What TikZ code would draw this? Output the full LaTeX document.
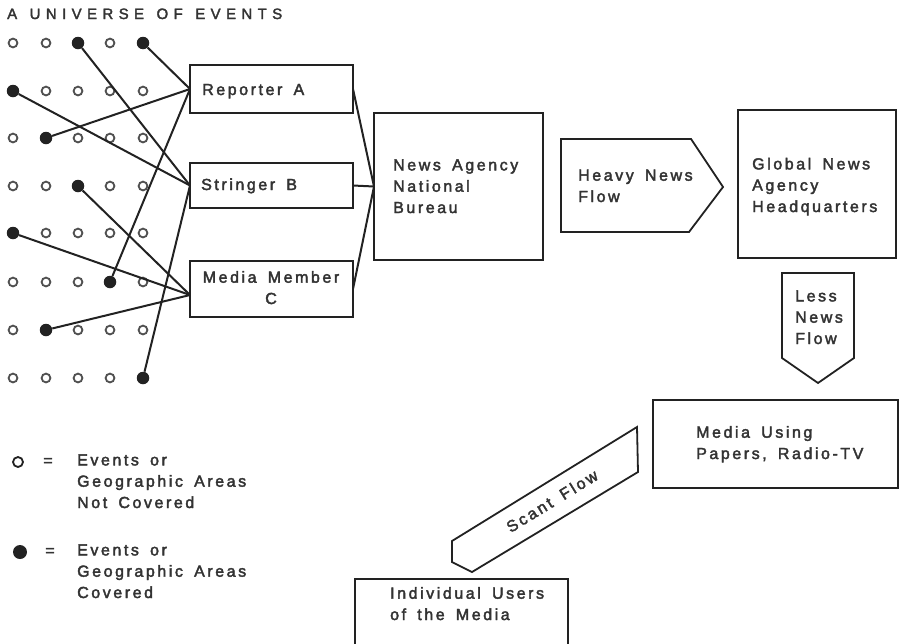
\documentclass[tikz,border=0pt]{standalone}
\usepackage{fontspec}
\newfontfamily\bodyfam[LetterSpace=16,WordSpace=1.6,FakeBold=2.5]{Liberation Sans}
\newfontfamily\titlefam[LetterSpace=36,WordSpace=1.3,FakeBold=2.2]{Liberation Sans}
\newcommand\mybody{\bodyfam\fontsize{16}{21.3}\selectfont}
\newcommand\mytitle{\titlefam\fontsize{15}{18}\selectfont}
\definecolor{ink}{HTML}{222222}
\definecolor{txt}{HTML}{333333}
\definecolor{ring}{HTML}{505050}
\begin{document}
\begin{tikzpicture}[x=1pt,y=-1pt,
  box/.style={draw=ink, line width=1.8pt, rectangle, inner sep=0pt, outer sep=0pt, anchor=north west},
  lbl/.style={font=\mybody, text=txt, align=left, inner sep=0pt, anchor=base west},
  odot/.style={circle, draw=ring, line width=1.8pt, minimum size=8.8pt, inner sep=0pt},
  fdot/.style={circle, fill=ink, minimum size=12.5pt, inner sep=0pt},
  conn/.style={draw=ink, line width=2pt},
  flow/.style={draw=ink, line width=1.8pt, line join=miter}]
\useasboundingbox (0,0) rectangle (904,643);
\clip (0,0) rectangle (904,643);

% title
\node[font=\mytitle, text=txt, anchor=base west, inner sep=0pt] (title) at (7,19) {A UNIVERSE OF EVENTS};

% grid of events
\foreach \y/\fa/\fb [count=\r] in {43/3/5, 91/1/0, 138/2/0, 186/3/0, 233/1/0, 282/4/0, 330/2/0, 378/5/0} {
  \foreach \x [count=\c] in {13,46,78,110,143} {
    \ifnum\c=\fa
      \node[fdot] (d\r\c) at (\x,\y) {};
    \else
      \ifnum\c=\fb
        \node[fdot] (d\r\c) at (\x,\y) {};
      \else
        \node[odot] (d\r\c) at (\x,\y) {};
      \fi
    \fi
  }
}

% boxes
\node[box, minimum width=163pt, minimum height=48pt] (RA) at (190,65) {};
\node[box, minimum width=163pt, minimum height=45pt] (SB) at (190,163) {};
\node[box, minimum width=163pt, minimum height=56pt] (MC) at (190,261) {};
\node[box, minimum width=169pt, minimum height=147pt] (NA) at (374,113) {};
\node[box, minimum width=158pt, minimum height=148pt] (GN) at (738,110) {};
\node[box, minimum width=245pt, minimum height=88pt] (MU) at (653,400) {};
\node[box, minimum width=213pt, minimum height=90pt] (IU) at (355,579) {};

% connectors from events
\draw[conn] (d13) -- (SB.west);
\draw[conn] (d15) -- (RA.west);
\draw[conn] (d21) -- (SB.west);
\draw[conn] (d32) -- (RA.west);
\draw[conn] (d43) -- ([yshift=-6pt]MC.west);
\draw[conn] (d51) -- ([yshift=-6pt]MC.west);
\draw[conn] (d64) -- (RA.west);
\draw[conn] (d72) -- ([yshift=-6pt]MC.west);
\draw[conn] (d85) -- (SB.west);

% connectors to bureau
\draw[conn] (RA.east) -- (NA.west);
\draw[conn] (SB.east) -- (NA.west);
\draw[conn] (MC.east) -- (NA.west);

% flow arrows
\draw[flow] (561,139) -- (691,139) -- (723,187) -- (689,232) -- (561,232) -- cycle;
\draw[flow] (782,273) -- (854,273) -- (854,358) -- (818,383) -- (782,358) -- cycle;
\draw[flow] (452,541) -- (637,427) -- (638,472) -- (472,572) -- (452,562) -- cycle;

% texts (base = baseline of the last line)
\node[lbl] (tRA) at (202,95) {Reporter A};
\node[lbl] (tSB) at (201,190) {Stringer B};
\node[lbl, align=center, anchor=base] (tMC) at (271,304) {Media Member\\C};
\node[lbl] (tNA) at (393,213) {News Agency\\National\\Bureau};
\node[lbl] (tHF) at (578,202) {Heavy News\\Flow};
\node[lbl] (tGN) at (752,212) {Global News\\Agency\\Headquarters};
\node[lbl] (tLF) at (795,344) {Less\\News\\Flow};
\node[lbl] (tMU) at (696,459) {Media Using\\Papers, Radio-TV};
\node[lbl] (tIU) at (390,620) {Individual Users\\of the Media};
\node[font=\mybody, text=txt, rotate=31.6, inner sep=0pt] (tSF) at (552,501) {Scant Flow};

% legend
\node[circle, draw=ink, line width=1.8pt, minimum size=10pt, inner sep=0pt] (lo) at (18,462) {};
\node[font=\mybody, text=txt, inner sep=0pt] (le1) at (48,462) {=};
\node[lbl] (tL1) at (77,508) {Events or\\Geographic Areas\\Not Covered};
\node[fdot, minimum size=14pt] (lf) at (20,552) {};
\node[font=\mybody, text=txt, inner sep=0pt] (le2) at (50,552) {=};
\node[lbl] (tL2) at (77,598) {Events or\\Geographic Areas\\Covered};
\end{tikzpicture}
\end{document}
